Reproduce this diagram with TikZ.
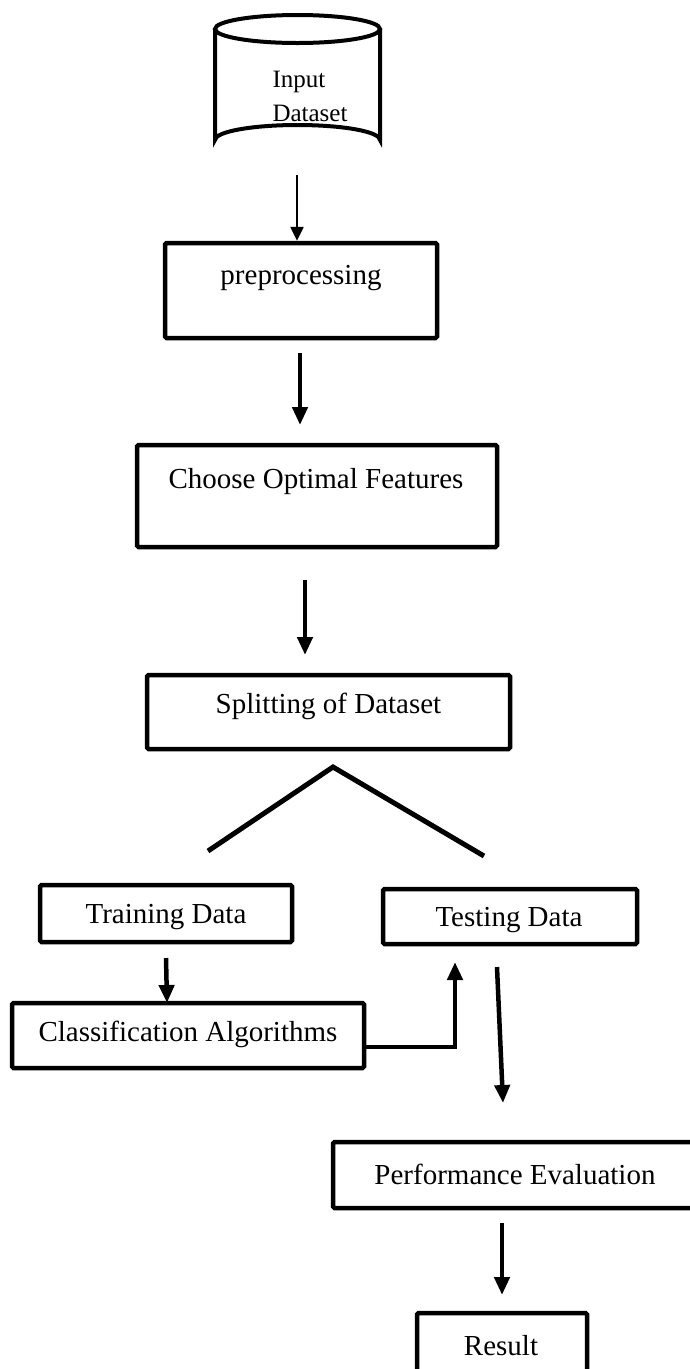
\documentclass[tikz,border=0pt]{standalone}
\usepackage{fontspec}
\setmainfont{Liberation Serif}
\usetikzlibrary{arrows.meta}
\begin{document}
\begin{tikzpicture}[x=1pt,y=-1pt,
  box/.style={draw,line width=4.5pt,rounded corners=1.5pt,inner sep=0pt},
  lbl/.style={font=\fontsize{29}{34}\selectfont,inner sep=0pt},
  arr/.style={line width=4.5pt,-{Triangle[width=15pt,length=18pt]}},
  thinarr/.style={line width=2.5pt,-{Triangle[width=13pt,length=14pt]}},
  wedge/.style={line width=5pt}]
\clip (0,0) rectangle (690,1369);
\fill[white] (0,0) rectangle (690,1369);
% cylinder
\draw[line width=4pt] (215,29) -- (215,140) arc[start angle=180,end angle=360,x radius=82.5,y radius=15] -- (380,29);
\draw[line width=4pt] (297.5,29) ellipse[x radius=82.5,y radius=14];
\node[font=\fontsize{25}{34}\selectfont,align=left,inner sep=0pt] (inp) at (310,96) {Input\\Dataset};
\coordinate (cylb) at (297,175);
% boxes
\node[box,minimum width=272pt,minimum height=95pt] (pre) at (301,290.5) {};
\node[lbl] (pret) at (301,278) {preprocessing};
\node[box,minimum width=360pt,minimum height=102pt] (cho) at (317,496) {};
\node[lbl] (chot) at (316,482) {Choose Optimal Features};
\node[box,minimum width=363pt,minimum height=74pt] (spl) at (328.5,712) {};
\node[lbl] (splt) at (328.5,706) {Splitting of Dataset};
\node[box,minimum width=252pt,minimum height=57pt] (tra) at (166,913.5) {};
\node[lbl] (trat) at (166,917) {Training Data};
\node[box,minimum width=254pt,minimum height=55pt] (tes) at (510,916.5) {};
\node[lbl] (test) at (509,920) {Testing Data};
\node[box,minimum width=352pt,minimum height=65pt] (cla) at (188,1035.5) {};
\node[lbl] (clat) at (188,1034) {Classification Algorithms};
\node[box,minimum width=380pt,minimum height=66pt] (per) at (523,1175) {};
\node[lbl] (pert) at (515,1174) {Performance Evaluation};
\node[box,minimum width=170pt,minimum height=70pt] (res) at (502,1348) {};
\node[lbl] (rest) at (501,1346) {Result};
% connectors
\draw[thinarr] (cylb) -- (cylb |- pre.north);
\draw[arr] (300,353) -- (300,425);
\draw[arr] (305,580) -- (305,655);
\coordinate (apex) at (333,767);
\coordinate (wl) at (208,851);
\coordinate (wr) at (484,856);
\draw[wedge] (wl) -- (apex) -- (wr);
\draw[arr] (166,958) -- (167,1003);
\coordinate (clb) at (455,962);
\draw[arr] (cla.east |- 0,1047) -- (455,1047) -- (clb);
\draw[arr] (497,967) -- (503,1103);
\draw[arr] (502,1223) -- (502,1295);
\end{tikzpicture}
\end{document}
